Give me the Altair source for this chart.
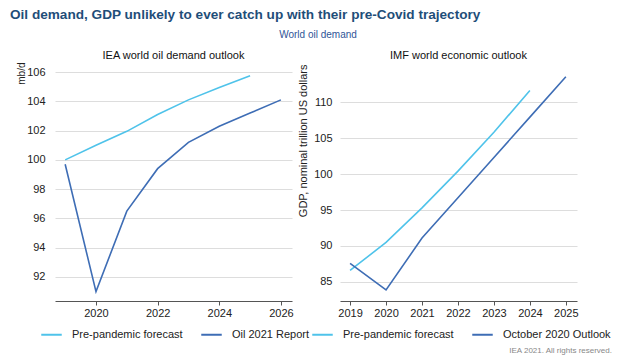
import altair as alt
import pandas as pd

# Left panel: IEA world oil demand outlook (mb/d)
oil_pre_years = [2019, 2020, 2021, 2022, 2023, 2024, 2025]
oil_pre_vals = [100.0, 101.0, 101.95, 103.1, 104.1, 104.95, 105.75]
oil_rep_years = [2019, 2020, 2021, 2022, 2023, 2024, 2025, 2026]
oil_rep_vals = [99.7, 91.0, 96.5, 99.4, 101.2, 102.3, 103.2, 104.1]

# Right panel: IMF world economic outlook (GDP, nominal trillion USD)
gdp_pre_years = [2019, 2020, 2021, 2022, 2023, 2024]
gdp_pre_vals = [86.6, 90.5, 95.3, 100.4, 105.8, 111.6]
gdp_oct_years = [2019, 2020, 2021, 2022, 2023, 2024, 2025]
gdp_oct_vals = [87.6, 83.9, 91.1, 96.7, 102.3, 107.9, 113.5]

left_series = ["Pre-pandemic forecast", "Oil 2021 Report"]
right_series = ["Pre-pandemic forecast", "October 2020 Outlook"]
colors = ["#4fc3ea", "#3e6db5"]

left_df = pd.concat([
    pd.DataFrame({"year": oil_pre_years, "value": oil_pre_vals, "series": left_series[0]}),
    pd.DataFrame({"year": oil_rep_years, "value": oil_rep_vals, "series": left_series[1]}),
])
right_df = pd.concat([
    pd.DataFrame({"year": gdp_pre_years, "value": gdp_pre_vals, "series": right_series[0]}),
    pd.DataFrame({"year": gdp_oct_years, "value": gdp_oct_vals, "series": right_series[1]}),
])

FONT = "Liberation Sans, Arial, sans-serif"
W, H = 237, 237


def legend(lx):
    return alt.Legend(
        title=None, orient="none", direction="horizontal", legendX=lx, legendY=259,
        symbolType="stroke", symbolStrokeWidth=2, symbolSize=420,
        labelFontSize=11, labelFont=FONT, labelColor="#222",
        columnPadding=14, labelOffset=9, padding=0,
    )


def text_mark(txt, x, y, size, color, align="center"):
    return alt.Chart(pd.DataFrame({"t": [txt]})).mark_text(
        align=align, baseline="middle", fontSize=size, font=FONT, color=color
    ).encode(text="t:N", x=alt.value(x), y=alt.value(y))


left_lines = alt.Chart(left_df).mark_line(strokeWidth=1.6).encode(
    x=alt.X("year:Q", scale=alt.Scale(domain=[2018.67, 2026.36], nice=False, zero=False),
            axis=alt.Axis(values=[2020, 2022, 2024, 2026], format="d", title=None, grid=False,
                          domainColor="#555", tickColor="#555", tickSize=4,
                          labelFontSize=11, labelColor="#222", labelFont=FONT)),
    y=alt.Y("value:Q", scale=alt.Scale(domain=[90.36, 106.55], nice=False, zero=False),
            axis=alt.Axis(values=[92, 94, 96, 98, 100, 102, 104, 106], title="mb/d",
                          titleAngle=-90, titleAlign="right", titleBaseline="bottom",
                          titleX=-29, titleY=-2, titleFontSize=10, titleFontWeight="normal",
                          titleFont=FONT, titleColor="#222",
                          domain=False, ticks=False, labelPadding=10,
                          labelFontSize=11, labelColor="#222", labelFont=FONT,
                          gridColor="#dddddd")),
    color=alt.Color("series:N", scale=alt.Scale(domain=left_series, range=colors), legend=legend(-15)),
)

left = alt.layer(
    left_lines,
    text_mark("World oil demand", 263, -29, 10, "#2f5597"),
    text_mark("IEA world oil demand outlook", W / 2, -8, 11, "#111"),
).properties(width=W, height=H)

right_lines = alt.Chart(right_df).mark_line(strokeWidth=1.6).encode(
    x=alt.X("year:Q", scale=alt.Scale(domain=[2018.72, 2025.31], nice=False, zero=False),
            axis=alt.Axis(values=[2019, 2020, 2021, 2022, 2023, 2024, 2025], format="d", title=None,
                          grid=False, domainColor="#555", tickColor="#555", tickSize=4,
                          labelFontSize=11, labelColor="#222", labelFont=FONT)),
    y=alt.Y("value:Q", scale=alt.Scale(domain=[82.36, 115.28], nice=False, zero=False),
            axis=alt.Axis(values=[85, 90, 95, 100, 105, 110], title="GDP, nominal trillion US dollars",
                          titleAngle=-90, titleAlign="right", titleBaseline="bottom",
                          titleX=-32, titleY=0, titleFontSize=11, titleFontWeight="normal",
                          titleFont=FONT, titleColor="#222",
                          domain=False, ticks=False, labelPadding=8,
                          labelFontSize=11, labelColor="#222", labelFont=FONT,
                          gridColor="#dddddd")),
    color=alt.Color("series:N", scale=alt.Scale(domain=right_series, range=colors), legend=legend(-29)),
)

right = alt.layer(
    right_lines,
    text_mark("IMF world economic outlook", W / 2, -8, 11, "#111"),
    text_mark("IEA 2021. All rights reserved.", 272, 287, 8, "#888", align="right"),
).properties(width=W, height=H)

chart = alt.hconcat(left, right, spacing=48, bounds="flush").resolve_scale(
    color="independent"
).properties(
    title=alt.TitleParams(
        "Oil demand, GDP unlikely to ever catch up with their pre-Covid trajectory",
        fontSize=13.6, fontWeight="bold", font=FONT, color="#1f4e79",
        anchor="start", offset=8, dx=-6,
    ),
    padding={"left": 2, "top": 0, "right": 0, "bottom": 0},
).configure_view(stroke=None)

chart.save("out.html", embed_options={"renderer": "svg", "actions": False})
